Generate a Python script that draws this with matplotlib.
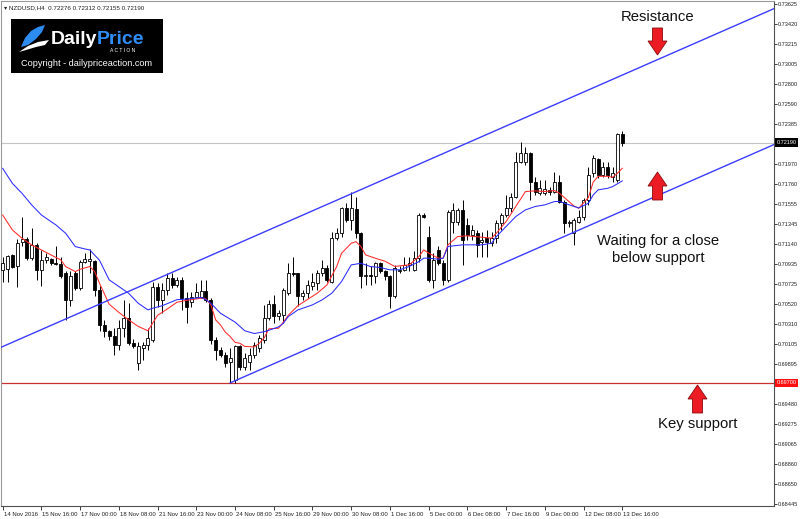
import numpy as np
import matplotlib
matplotlib.use("Agg")
import matplotlib.pyplot as plt
import matplotlib.transforms as mtransforms
from matplotlib.patches import Rectangle, Polygon

plt.rcParams['font.family'] = ['Liberation Sans', 'DejaVu Sans']

# NZDUSD H4 candles, 14 Nov 2016 08:00 .. 13 Dec 2016 16:00
opens = [0.70871, 0.70878, 0.71026, 0.70906, 0.71161, 0.71188, 0.70992, 0.71130, 0.70871, 0.70968,
         0.70981, 0.70940, 0.70933, 0.70837, 0.70561, 0.70837, 0.70681, 0.70957, 0.70961, 0.70964,
         0.70664, 0.70302, 0.70233, 0.70181, 0.70095, 0.70266, 0.70370, 0.70118, 0.69904, 0.70060,
         0.70094, 0.70146, 0.70698, 0.70559, 0.70663, 0.70784, 0.70715, 0.70767, 0.70577, 0.70542,
         0.70594, 0.70593, 0.70655, 0.70558, 0.70145, 0.70041, 0.69989, 0.69920, 0.69731, 0.70082,
         0.69869, 0.69920, 0.69989, 0.70058, 0.70145, 0.70369, 0.70519, 0.70388, 0.70405, 0.70630,
         0.70837, 0.70837, 0.70595, 0.70630, 0.70699, 0.70733, 0.70837, 0.70888, 0.70750, 0.71199,
         0.71250, 0.71509, 0.71389, 0.71499, 0.71250, 0.70802, 0.70819, 0.70802, 0.70940, 0.70854,
         0.70802, 0.70595, 0.70854, 0.70871, 0.70923, 0.70871, 0.70992, 0.71440, 0.71216, 0.70768,
         0.71078, 0.70940, 0.70768, 0.71371, 0.71371, 0.71492, 0.71337, 0.71233, 0.71251, 0.71164,
         0.71199, 0.71147, 0.71199, 0.71354, 0.71440, 0.71509, 0.71630, 0.71992, 0.71992, 0.72085,
         0.71785, 0.71665, 0.71665, 0.71699, 0.71682, 0.71785, 0.71578, 0.71354, 0.71250, 0.71371,
         0.71423, 0.71595, 0.71871, 0.72016, 0.71854, 0.71940, 0.71837, 0.71802, 0.72276]
highs = [0.71009, 0.71026, 0.71037, 0.71188, 0.71423, 0.71209, 0.71302, 0.71147, 0.71078, 0.71043,
         0.70992, 0.71119, 0.71009, 0.70854, 0.70854, 0.70854, 0.70975, 0.71043, 0.71085, 0.70975,
         0.70699, 0.70353, 0.70250, 0.70267, 0.70354, 0.70560, 0.70525, 0.70150, 0.70128, 0.70128,
         0.70266, 0.70749, 0.70732, 0.70732, 0.70836, 0.70836, 0.70800, 0.70801, 0.70646, 0.70646,
         0.70732, 0.70766, 0.70766, 0.70580, 0.70179, 0.70075, 0.70024, 0.70058, 0.70093, 0.70093,
         0.70007, 0.70058, 0.70127, 0.70196, 0.70507, 0.70558, 0.70612, 0.70457, 0.70681, 0.70940,
         0.71009, 0.70840, 0.70664, 0.70768, 0.70837, 0.70871, 0.70975, 0.70923, 0.71268, 0.71302,
         0.71527, 0.71561, 0.71682, 0.71630, 0.71268, 0.70940, 0.70906, 0.70957, 0.70957, 0.70871,
         0.70819, 0.70923, 0.70906, 0.71009, 0.71009, 0.71061, 0.71458, 0.71458, 0.71320, 0.71044,
         0.71113, 0.70975, 0.71492, 0.71561, 0.71509, 0.71596, 0.71406, 0.71337, 0.71285, 0.71268,
         0.71285, 0.71268, 0.71389, 0.71458, 0.71647, 0.71665, 0.72096, 0.72199, 0.72148, 0.72096,
         0.71837, 0.71803, 0.71803, 0.71733, 0.71889, 0.71854, 0.71596, 0.71388, 0.71405, 0.71492,
         0.71612, 0.71940, 0.72061, 0.72026, 0.71992, 0.71992, 0.71940, 0.72285, 0.72312]
lows = [0.70750, 0.70750, 0.70888, 0.70692, 0.71113, 0.70975, 0.70975, 0.70768, 0.70699, 0.70940,
        0.70923, 0.70923, 0.70785, 0.70347, 0.70492, 0.70664, 0.70664, 0.70940, 0.70837, 0.70595,
        0.70233, 0.70180, 0.70147, 0.69991, 0.70043, 0.70180, 0.70094, 0.70060, 0.69835, 0.69939,
        0.70042, 0.70128, 0.70491, 0.70422, 0.70611, 0.70680, 0.70698, 0.70456, 0.70318, 0.70491,
        0.70577, 0.70576, 0.70541, 0.70100, 0.69938, 0.69965, 0.69869, 0.69700, 0.69700, 0.69834,
        0.69834, 0.69834, 0.69955, 0.70024, 0.70110, 0.70351, 0.70319, 0.70354, 0.70319, 0.70612,
        0.70802, 0.70492, 0.70561, 0.70578, 0.70664, 0.70664, 0.70802, 0.70750, 0.70733, 0.71181,
        0.71216, 0.71371, 0.71285, 0.71199, 0.70681, 0.70716, 0.70716, 0.70733, 0.70837, 0.70768,
        0.70474, 0.70578, 0.70837, 0.70854, 0.70854, 0.70854, 0.70957, 0.71406, 0.70750, 0.70681,
        0.70923, 0.70716, 0.70750, 0.71251, 0.71337, 0.70923, 0.71182, 0.71182, 0.71009, 0.71009,
        0.71009, 0.71113, 0.71147, 0.71285, 0.71423, 0.71475, 0.71613, 0.71975, 0.71958, 0.71596,
        0.71647, 0.71647, 0.71647, 0.71647, 0.71665, 0.71561, 0.71251, 0.71319, 0.71129, 0.71354,
        0.71388, 0.71543, 0.71837, 0.71819, 0.71837, 0.71819, 0.71785, 0.71785, 0.72155]
closes = [0.70940, 0.71016, 0.70899, 0.71154, 0.71188, 0.70992, 0.71130, 0.70871, 0.70975, 0.71002,
          0.70940, 0.70933, 0.70802, 0.70561, 0.70802, 0.70681, 0.70957, 0.70981, 0.70988, 0.70664,
          0.70302, 0.70233, 0.70181, 0.70095, 0.70267, 0.70370, 0.70111, 0.70077, 0.70077, 0.70094,
          0.70163, 0.70698, 0.70559, 0.70663, 0.70784, 0.70715, 0.70767, 0.70577, 0.70491, 0.70594,
          0.70646, 0.70655, 0.70558, 0.70145, 0.70041, 0.69989, 0.69903, 0.69955, 0.70082, 0.69869,
          0.69955, 0.69989, 0.70093, 0.70162, 0.70369, 0.70518, 0.70388, 0.70423, 0.70664, 0.70837,
          0.70830, 0.70595, 0.70630, 0.70716, 0.70750, 0.70837, 0.70888, 0.70761, 0.71199, 0.71250,
          0.71509, 0.71389, 0.71509, 0.71250, 0.70802, 0.70819, 0.70802, 0.70940, 0.70854, 0.70802,
          0.70595, 0.70888, 0.70871, 0.70923, 0.70940, 0.70992, 0.71440, 0.71416, 0.70768, 0.70975,
          0.70940, 0.70768, 0.71475, 0.71492, 0.71492, 0.71182, 0.71233, 0.71285, 0.71130, 0.71182,
          0.71164, 0.71199, 0.71354, 0.71440, 0.71509, 0.71630, 0.71992, 0.72079, 0.72085, 0.71785,
          0.71682, 0.71716, 0.71706, 0.71682, 0.71785, 0.71578, 0.71354, 0.71371, 0.71388, 0.71423,
          0.71595, 0.71854, 0.72026, 0.71854, 0.71940, 0.71854, 0.71871, 0.72276, 0.72190]

# moving averages (candle index, price)
red_ma_idx = [0, 2, 4, 6, 10, 12, 13, 15, 16, 18, 19, 20, 22, 24, 26, 28, 30, 31, 32, 34,
              36, 38, 41, 42, 43, 44, 45, 46, 47, 48, 49, 50, 52, 53, 54, 55, 57, 58, 59, 61,
              63, 65, 67, 69, 70, 72, 73, 74, 75, 77, 79, 81, 84, 86, 87, 88, 90, 91, 92, 94,
              96, 99, 101, 102, 104, 106, 108, 110, 112, 114, 115, 117, 118, 119, 121, 122, 123, 125,
              126, 127, 128]
red_ma_val = [0.71439, 0.71284, 0.71198, 0.71129, 0.71025, 0.70974, 0.70905, 0.70853, 0.70877, 0.70905,
              0.70853, 0.70732, 0.70515, 0.70430, 0.70353, 0.70285, 0.70240, 0.70320, 0.70400, 0.70465,
              0.70535, 0.70555, 0.70577, 0.70570, 0.70510, 0.70352, 0.70300, 0.70225, 0.70180, 0.70120,
              0.70110, 0.70078, 0.70072, 0.70110, 0.70165, 0.70260, 0.70266, 0.70330, 0.70400, 0.70500,
              0.70565, 0.70629, 0.70715, 0.70905, 0.71042, 0.71146, 0.71163, 0.71112, 0.71025, 0.70991,
              0.70960, 0.70906, 0.70923, 0.71009, 0.71078, 0.71044, 0.70992, 0.70992, 0.71130, 0.71216,
              0.71223, 0.71209, 0.71199, 0.71251, 0.71371, 0.71527, 0.71682, 0.71689, 0.71682, 0.71692,
              0.71665, 0.71578, 0.71533, 0.71509, 0.71620, 0.71780, 0.71840, 0.71840, 0.71830, 0.71871,
              0.71923]
blue_ma_idx = [0, 2, 4, 6, 8, 11, 13, 15, 17, 18, 20, 22, 26, 28, 30, 31, 33, 36, 38, 41,
               42, 43, 45, 48, 50, 52, 54, 55, 57, 58, 59, 61, 64, 66, 68, 70, 72, 74, 76, 78,
               80, 82, 84, 86, 87, 88, 90, 91, 92, 95, 97, 99, 101, 102, 104, 106, 108, 110, 112, 114,
               115, 117, 119, 121, 122, 123, 125, 126, 128]
blue_ma_val = [0.71922, 0.71767, 0.71663, 0.71543, 0.71439, 0.71336, 0.71250, 0.71112, 0.71087, 0.71077,
               0.70970, 0.70767, 0.70629, 0.70525, 0.70456, 0.70473, 0.70500, 0.70562, 0.70568, 0.70585,
               0.70562, 0.70525, 0.70421, 0.70330, 0.70240, 0.70211, 0.70230, 0.70245, 0.70280, 0.70318,
               0.70387, 0.70456, 0.70508, 0.70560, 0.70629, 0.70749, 0.70922, 0.70939, 0.70905, 0.70895,
               0.70871, 0.70871, 0.70906, 0.70957, 0.70992, 0.70992, 0.70981, 0.70992, 0.71113, 0.71130,
               0.71130, 0.71130, 0.71147, 0.71216, 0.71320, 0.71423, 0.71492, 0.71527, 0.71544, 0.71578,
               0.71580, 0.71545, 0.71512, 0.71561, 0.71647, 0.71699, 0.71716, 0.71733, 0.71792]

# trend channel anchors (candle index, price)
upper_channel = [(0, 0.70076), (72, 0.71658)]
lower_channel = [(47, 0.69700), (128, 0.71480)]
bid_price = 0.72190
key_support = 0.69700

price_ticks = [0.73625, 0.73420, 0.73215, 0.73005, 0.72800, 0.72590, 0.72385, 0.71970, 0.71760, 0.71555,
               0.71345, 0.71140, 0.70935, 0.70725, 0.70520, 0.70310, 0.70105, 0.69895, 0.69480, 0.69275,
               0.69065, 0.68860, 0.68650, 0.68445]
time_tick_idx = list(range(0, 129, 8))
time_tick_labels = ["14 Nov 2016", "15 Nov 16:00", "17 Nov 00:00", "18 Nov 08:00", "21 Nov 16:00",
                    "23 Nov 00:00", "24 Nov 08:00", "25 Nov 16:00", "29 Nov 00:00", "30 Nov 08:00",
                    "1 Dec 16:00", "5 Dec 00:00", "6 Dec 08:00", "7 Dec 16:00", "9 Dec 00:00",
                    "12 Dec 08:00", "13 Dec 16:00"]

W, H = 800, 519
fig = plt.figure(figsize=(W / 100, H / 100), dpi=100)
ax = fig.add_axes([1 / W, 13 / H, 773 / W, 505 / H])
x_lo, x_hi = -0.35, 159.35
ax.set_xlim(x_lo, x_hi)
ax.set_ylim(0.684243, 0.736561)

o = np.array(opens)
h = np.array(highs)
l = np.array(lows)
c = np.array(closes)
idx = np.arange(len(o))
up = c >= o

# candles
ax.vlines(idx, l, h, color='black', lw=0.7, zorder=2)
body_h = np.maximum(np.abs(c - o), 0.00002)
ax.bar(idx, body_h, bottom=np.minimum(o, c), width=0.62,
       color=np.where(up, 'white', 'black'), edgecolor='black', linewidth=0.6, zorder=3)

# moving averages
ax.plot(red_ma_idx, red_ma_val, color='#ff2a2a', lw=0.75, zorder=4)
ax.plot(blue_ma_idx, blue_ma_val, color='#2a2aff', lw=0.75, zorder=4)


def extend(p0, p1, xa, xb):
    slope = (p1[1] - p0[1]) / (p1[0] - p0[0])
    return [xa, xb], [p0[1] + slope * (xa - p0[0]), p0[1] + slope * (xb - p0[0])]


ux, uy = extend(upper_channel[0], upper_channel[1], x_lo, x_hi)
lx, ly = extend(lower_channel[0], lower_channel[1], lower_channel[0][0], x_hi)
ax.plot(ux, uy, color='#3c3cff', lw=1.0, zorder=5)
ax.plot(lx, ly, color='#3c3cff', lw=1.0, zorder=5)

ax.axhline(bid_price, color='#c4c4c4', lw=0.8, zorder=1)
ax.axhline(key_support, color='#c83030', lw=0.9, zorder=1)

# axes styling
for side in ['left', 'top']:
    ax.spines[side].set_color('#9a9a9a')
    ax.spines[side].set_linewidth(0.8)
for side in ['right', 'bottom']:
    ax.spines[side].set_color('#505050')
    ax.spines[side].set_linewidth(0.8)

ax.yaxis.tick_right()
ax.set_yticks(price_ticks)
ax.set_yticklabels([f"{v:.5f}" for v in price_ticks])
ax.tick_params(axis='y', length=2, width=0.6, pad=0.8, labelsize=4.0, colors='#202020')
ax.set_xticks(time_tick_idx)
ax.set_xticklabels(time_tick_labels)
ax.tick_params(axis='x', length=3, width=0.6, pad=1.5, labelsize=4.3, colors='#202020')
shift = mtransforms.ScaledTranslation(1 / 100, 0, fig.dpi_scale_trans)
for lab in ax.get_xticklabels():
    lab.set_horizontalalignment('left')
    lab.set_transform(lab.get_transform() + shift)

blend = mtransforms.blended_transform_factory(ax.transAxes, ax.transData)
ax.text(1.003, bid_price, f"{bid_price:.5f}", transform=blend, ha='left', va='center',
        fontsize=4.0, color='white', zorder=6, clip_on=False,
        bbox=dict(boxstyle='square,pad=0.3', fc='black', ec='none'))
ax.text(1.003, key_support, f"{key_support:.5f}", transform=blend, ha='left', va='center',
        fontsize=4.0, color='white', zorder=6, clip_on=False,
        bbox=dict(boxstyle='square,pad=0.3', fc='#ff1010', ec='none'))

# overlay in pixel units for the header, logo and notes
ov = fig.add_axes([0, 0, 1, 1], zorder=10)
ov.set_xlim(0, W)
ov.set_ylim(H, 0)
ov.axis('off')

ov.text(4, 8, "\u25be NZDUSD,H4  0.72276 0.72312 0.72155 0.72190", fontsize=4.5,
        va='center', ha='left', color='#202020')

ov.add_patch(Rectangle((11, 19), 152, 54, fc='black', ec='none'))
ov.add_patch(Polygon([(21, 47), (25, 38), (31, 31), (38, 27), (45, 25), (42, 32), (36, 39), (28, 45)],
                     closed=True, fc='#2d8cf0', ec='none'))
ov.add_patch(Polygon([(19, 52), (28, 46), (38, 42), (49, 40), (45, 45), (36, 47), (26, 50)],
                     closed=True, fc='white', ec='none'))
ov.text(97, 40, "Daily", fontsize=14, fontweight='bold', color='white', ha='right', va='center')
ov.text(97, 40, "Price", fontsize=14, fontweight='bold', color='#2f8ef5', ha='left', va='center')
ov.text(123, 51, "A C T I O N", fontsize=3.6, color='white', ha='center', va='center')
ov.text(87, 64, "Copyright - dailypriceaction.com", fontsize=6.6, color='white',
        ha='center', va='center')


def block_arrow(xc, y_tip, y_tail, pointing_up):
    head = 14 if pointing_up else -14
    y_base = y_tip + head
    pts = [(xc, y_tip), (xc + 9.5, y_base), (xc + 5, y_base), (xc + 5, y_tail),
           (xc - 5, y_tail), (xc - 5, y_base), (xc - 9.5, y_base)]
    ov.add_patch(Polygon(pts, closed=True, fc='#ec1c24', ec='#8a0a0a', lw=0.6))


block_arrow(657.5, 55, 28, False)
block_arrow(657.5, 172, 200, True)
block_arrow(697.5, 385, 413, True)

note_style = dict(fontsize=10.7, color='#111111', ha='center', va='center')
ov.text(658, 17, "Resistance", **note_style)
ov.text(658, 241, "Waiting for a close", **note_style)
ov.text(658, 258, "below support", **note_style)
ov.text(698, 424, "Key support", **note_style)

fig.savefig("out.png", dpi=100)
